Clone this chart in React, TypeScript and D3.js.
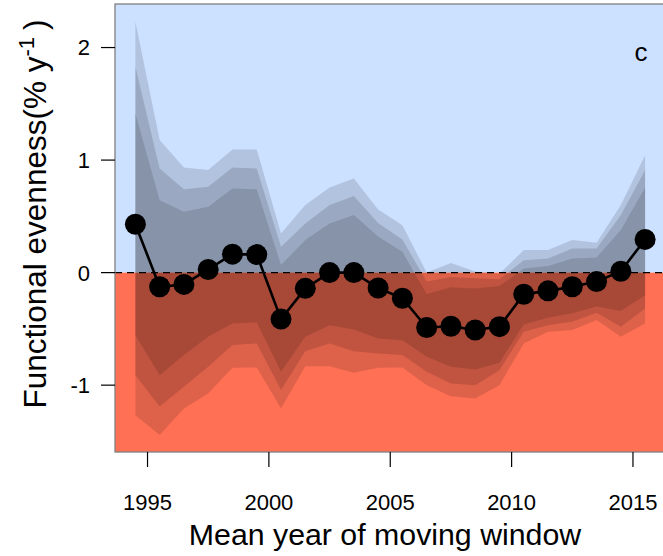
import React from "react";
import * as d3 from "d3";

// mean year of each moving window
const years = [
  1994.5, 1995.5, 1996.5, 1997.5, 1998.5, 1999.5, 2000.5, 2001.5, 2002.5, 2003.5, 2004.5,
  2005.5, 2006.5, 2007.5, 2008.5, 2009.5, 2010.5, 2011.5, 2012.5, 2013.5, 2014.5, 2015.5,
];

// trend estimate (% per year)
const trend = [
  0.43, -0.126, -0.105, 0.028, 0.164, 0.16, -0.413, -0.14, 0.0, 0.0, -0.137,
  -0.228, -0.488, -0.477, -0.51, -0.48, -0.192, -0.162, -0.126, -0.08, 0.012, 0.295,
];

// credible intervals, outer (widest) to inner
const upperOuter = [
  2.23, 1.178, 0.935, 0.911, 1.095, 1.095, 0.348, 0.6, 0.757, 0.837, 0.56,
  0.422, 0.0, 0.085, 0.01, -0.01, 0.2, 0.2, 0.289, 0.265, 0.6, 1.044,
];
const lowerOuter = [
  -1.267, -1.444, -1.207, -1.074, -0.846, -0.843, -1.207, -0.831, -0.831, -0.89, -0.846,
  -0.843, -1.0, -1.098, -1.118, -1.0, -0.63, -0.526, -0.51, -0.422, -0.57, -0.452,
];
const upperMid = [
  1.83, 0.926, 0.74, 0.763, 0.935, 0.926, 0.229, 0.437, 0.6, 0.68, 0.44,
  0.295, -0.08, -0.04, -0.05, -0.06, 0.111, 0.126, 0.215, 0.215, 0.511, 0.911,
];
const lowerMid = [
  -0.911, -1.19, -1.015, -0.837, -0.644, -0.63, -1.044, -0.698, -0.63, -0.698, -0.719,
  -0.733, -0.88, -0.985, -1.0, -0.867, -0.526, -0.467, -0.437, -0.357, -0.48, -0.318,
];
const upperInner = [
  1.415, 0.644, 0.54, 0.585, 0.748, 0.74, 0.067, 0.289, 0.437, 0.511, 0.32,
  0.185, -0.19, -0.13, -0.14, -0.12, 0.037, 0.058, 0.126, 0.135, 0.378, 0.757,
];
const lowerInner = [
  -0.556, -0.911, -0.733, -0.57, -0.452, -0.443, -0.88, -0.57, -0.467, -0.505, -0.585,
  -0.6, -0.748, -0.837, -0.861, -0.8, -0.46, -0.4, -0.36, -0.3, -0.34, -0.2,
];

const xTicks = [1995, 2000, 2005, 2010, 2015];
const yTicks = [-1, 0, 1, 2];

const font = "'Liberation Sans', Arial, Helvetica, sans-serif";
const plot = { left: 115, top: 4, right: 665.5, bottom: 452 };

export default function App() {
  const x = d3.scaleLinear().domain([1993.66, 2016.34]).range([plot.left, plot.right]);
  const y = d3.scaleLinear().domain([-1.594, 2.387]).range([plot.bottom, plot.top]);

  const band = (lo: number[], hi: number[]) =>
    d3.area<number>()
      .x((d) => x(years[d]))
      .y0((d) => y(lo[d]))
      .y1((d) => y(hi[d]))(d3.range(years.length)) as string;

  const line = d3.line<number>()
    .x((d) => x(years[d]))
    .y((d) => y(trend[d]))(d3.range(years.length)) as string;

  const bands = [
    [lowerOuter, upperOuter],
    [lowerMid, upperMid],
    [lowerInner, upperInner],
  ];

  return (
    <svg width={663} height={556} style={{ position: "absolute", left: 0, top: 0 }} fontFamily={font}>
      <rect x={0} y={0} width={663} height={556} fill="white" />
      <rect x={plot.left} y={plot.top} width={plot.right - plot.left} height={y(0) - plot.top} fill="#cce0ff" />
      <rect x={plot.left} y={y(0)} width={plot.right - plot.left} height={plot.bottom - y(0)} fill="#ff7055" />
      {bands.map(([lo, hi], i) => (
        <path key={i} d={band(lo, hi)} fill="#000" fillOpacity={0.13} />
      ))}
      <line x1={plot.left} x2={plot.right} y1={y(0)} y2={y(0)} stroke="#000" strokeWidth={1.3} strokeDasharray="7,5" />
      <path d={line} fill="none" stroke="#000" strokeWidth={2.6} />
      {years.map((yr, i) => (
        <circle key={yr} cx={x(yr)} cy={y(trend[i])} r={10.5} fill="#000" />
      ))}
      <rect x={plot.left} y={plot.top} width={plot.right - plot.left} height={plot.bottom - plot.top} fill="none" stroke="#808080" strokeWidth={1.3} />

      {xTicks.map((t) => (
        <g key={t}>
          <line x1={x(t)} x2={x(t)} y1={plot.bottom} y2={plot.bottom + 15} stroke="#000" strokeWidth={1.2} />
          <text x={x(t)} y={510} textAnchor="middle" fontSize={22}>{t}</text>
        </g>
      ))}
      {yTicks.map((t) => (
        <g key={t}>
          <line x1={plot.left - 14} x2={plot.left} y1={y(t)} y2={y(t)} stroke="#000" strokeWidth={1.2} />
          <text x={90} y={y(t)} dy="0.36em" textAnchor="end" fontSize={22}>{t}</text>
        </g>
      ))}

      <text x={385} y={545} textAnchor="middle" fontSize={30.3}>Mean year of moving window</text>
      <text transform="translate(46,214) rotate(-90)" textAnchor="middle" fontSize={31.5}>
        Functional evenness(% y<tspan dy={-12} fontSize={22}>-1</tspan>
        <tspan dy={12} dx={7}>)</tspan>
      </text>
      <text x={641} y={61} textAnchor="middle" fontSize={26}>c</text>
    </svg>
  );
}
